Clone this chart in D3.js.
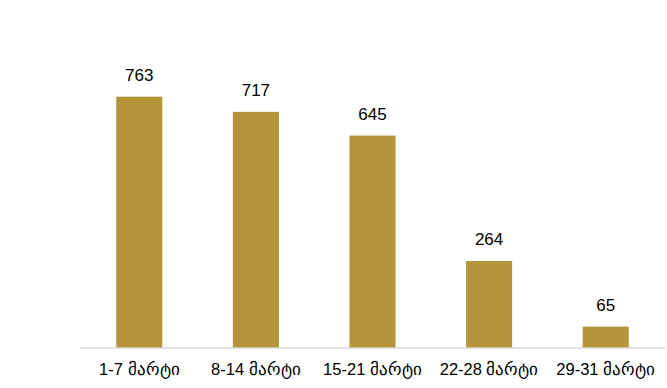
<!DOCTYPE html>
<html>
<head>
<meta charset="utf-8">
<script src="https://cdn.jsdelivr.net/npm/d3@7"></script>
<style>
  html, body { margin: 0; padding: 0; background: #fff; }
  svg text { font-family: "Liberation Sans", Arial, sans-serif; fill: #000; }
</style>
</head>
<body>
<svg id="chart" width="667" height="388"></svg>
<script>
// Weekly totals for March
const categories = ["1-7 მარტი", "8-14 მარტი", "15-21 მარტი", "22-28 მარტი", "29-31 მარტი"];
const values = [763, 717, 645, 264, 65];

const svg = d3.select("#chart");
const baseline = 348;

const x = d3.scaleBand()
  .domain(categories)
  .range([81, 664])
  .paddingInner(0.605)
  .paddingOuter(0.3025);

const y = d3.scaleLinear()
  .domain([0, 800])
  .range([baseline, 84.5]);

// bars
svg.append("g")
  .selectAll("rect")
  .data(values)
  .join("rect")
  .attr("x", (d, i) => x(categories[i]))
  .attr("y", d => y(d))
  .attr("width", x.bandwidth())
  .attr("height", d => baseline - y(d))
  .attr("fill", "#b4953a");

// value labels above bars
svg.append("g")
  .selectAll("text")
  .data(values)
  .join("text")
  .attr("x", (d, i) => x(categories[i]) + x.bandwidth() / 2)
  .attr("y", d => y(d) - 16)
  .attr("text-anchor", "middle")
  .attr("font-size", 17)
  .text(d => d);

// category axis
const axis = d3.axisBottom(x).tickSize(0).tickPadding(15);
const gx = svg.append("g")
  .attr("transform", `translate(0,${baseline})`)
  .call(axis);
gx.select(".domain").attr("stroke", "#d9d9d9").attr("stroke-width", 1.3)
  .attr("d", "M80,0H665");
gx.selectAll(".tick text")
  .attr("font-size", 16.5)
  .style("font-family", '"Liberation Sans", Arial, sans-serif')
  .attr("fill", "#000");
</script>
</body>
</html>
